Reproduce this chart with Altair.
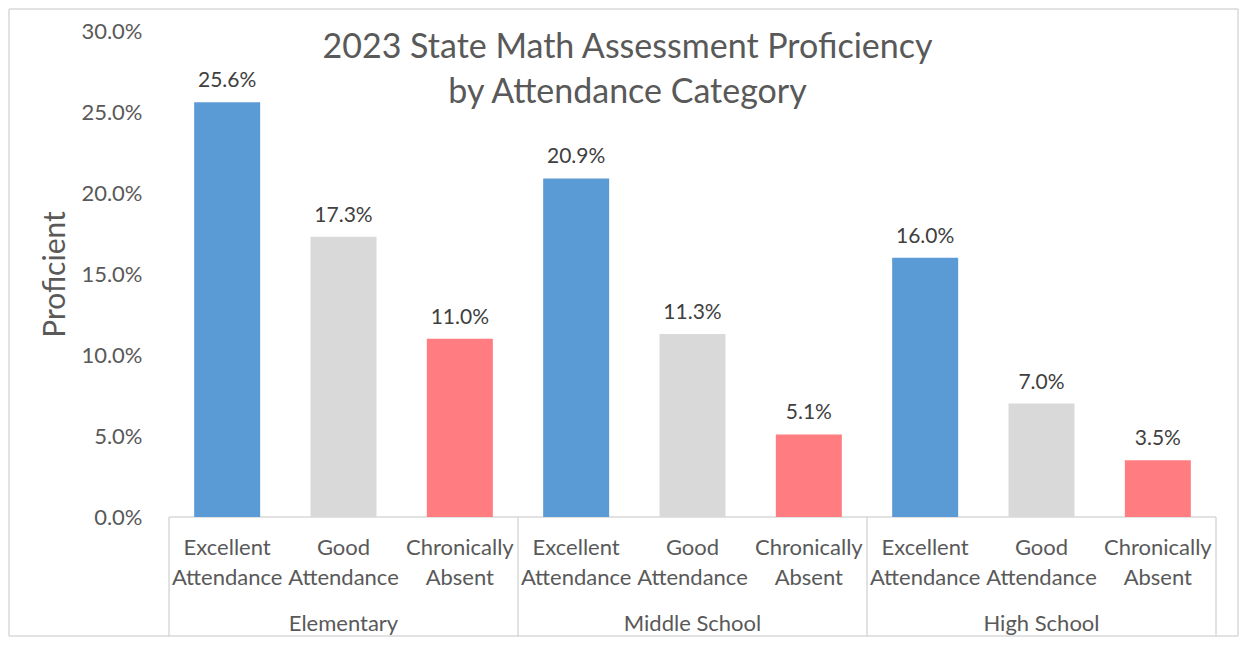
import altair as alt
import pandas as pd

groups = ["Elementary", "Middle School", "High School"]
categories = ["Excellent Attendance", "Good Attendance", "Chronically Absent"]
cat_line1 = ["Excellent", "Good", "Chronically"]
cat_line2 = ["Attendance", "Attendance", "Absent"]
elementary = [0.256, 0.173, 0.110]
middle = [0.209, 0.113, 0.051]
high = [0.160, 0.070, 0.035]
colors = ["#5B9BD5", "#D9D9D9", "#FF7C80"]
title_lines = ["2023 State Math Assessment Proficiency", "by Attendance Category"]
y_ticks = [0, 0.05, 0.10, 0.15, 0.20, 0.25, 0.30]

FONT = "Lato"
W, H = 1057, 486

rows = []
for gi, (g, vals) in enumerate(zip(groups, [elementary, middle, high])):
    for ci, c in enumerate(categories):
        rows.append(dict(group=g, category=c, l1=cat_line1[ci], l2=cat_line2[ci],
                         value=vals[ci], pos=gi * 3 + ci + 0.5))
df = pd.DataFrame(rows)
df_groups = pd.DataFrame({"group": groups, "pos": [1.5, 4.5, 7.5]})
df_sep = pd.DataFrame({"pos": [0, 3, 6, 9]})
df_base = pd.DataFrame({"x": [0], "x2": [9], "y": [0]})

xscale = alt.Scale(domain=[0, 9], nice=False, zero=False)
yscale = alt.Scale(domain=[0, 0.30], nice=False)

base = alt.Chart(df)

bars = base.mark_bar(size=66).encode(
    x=alt.X("pos:Q", scale=xscale, axis=None),
    y=alt.Y("value:Q", scale=yscale,
            axis=alt.Axis(format=".1%", values=y_ticks, domain=False, ticks=False, grid=False,
                          labelFontSize=22, labelColor="#595959", labelPadding=22, labelFont=FONT,
                          title="Proficient", titleFontSize=30, titleFontWeight="normal",
                          titleColor="#595959", titleFont=FONT, titleX=-109, titleY=H / 2,
                          titleAngle=-90, titleBaseline="middle", titleAlign="center")),
    color=alt.Color("category:N", scale=alt.Scale(domain=categories, range=colors), legend=None),
)

labels = base.mark_text(dy=-11, baseline="bottom", fontSize=21, color="#404040", font=FONT).encode(
    x=alt.X("pos:Q", scale=xscale, axis=None),
    y=alt.Y("value:Q", scale=yscale),
    text=alt.Text("value:Q", format=".1%"),
)

baseline = alt.Chart(df_base).mark_rule(color="#D9D9D9", strokeWidth=1.5).encode(
    x=alt.X("x:Q", scale=xscale, axis=None), x2="x2:Q", y=alt.Y("y:Q", scale=yscale)
)

seps = alt.Chart(df_sep).mark_rule(color="#D9D9D9", strokeWidth=1.5).encode(
    x=alt.X("pos:Q", scale=xscale, axis=None), y=alt.value(H), y2=alt.value(H + 121)
)

cat1 = base.mark_text(fontSize=22, color="#595959", font=FONT, baseline="middle").encode(
    x=alt.X("pos:Q", scale=xscale, axis=None), y=alt.value(H + 31), text="l1:N"
)
cat2 = base.mark_text(fontSize=22, color="#595959", font=FONT, baseline="middle").encode(
    x=alt.X("pos:Q", scale=xscale, axis=None), y=alt.value(H + 61), text="l2:N"
)
grp = alt.Chart(df_groups).mark_text(fontSize=22, color="#595959", font=FONT, baseline="middle").encode(
    x=alt.X("pos:Q", scale=xscale, axis=None), y=alt.value(H + 107), text="group:N"
)

bc = "#D9D9D9"
L, R, T, B = -155, W + 17, -22, H + 119
b_top = alt.Chart(df_base).mark_rule(color=bc, strokeWidth=1.5).encode(
    x=alt.value(L), x2=alt.value(R), y=alt.value(T))
b_bot = alt.Chart(df_base).mark_rule(color=bc, strokeWidth=1.5).encode(
    x=alt.value(L), x2=alt.value(R), y=alt.value(B))
b_left = alt.Chart(df_base).mark_rule(color=bc, strokeWidth=1.5).encode(
    x=alt.value(L), y=alt.value(T), y2=alt.value(B))
b_right = alt.Chart(df_base).mark_rule(color=bc, strokeWidth=1.5).encode(
    x=alt.value(R), y=alt.value(T), y2=alt.value(B))

chart = alt.layer(b_top, b_bot, b_left, b_right, baseline, seps, bars, labels, cat1, cat2, grp).properties(
    width=W, height=H,
    title=alt.TitleParams(text=title_lines, anchor="middle", dx=-65, offset=-119,
                          baseline="middle", lineHeight=45, fontSize=34, font=FONT,
                          fontWeight="normal", color="#595959"),
    autosize=alt.AutoSizeParams(type="none"),
    padding={"left": 156, "top": 23, "right": 18, "bottom": 120},
).configure_view(stroke=None)

chart.save("out.html", embed_options={"renderer": "svg", "actions": False})
